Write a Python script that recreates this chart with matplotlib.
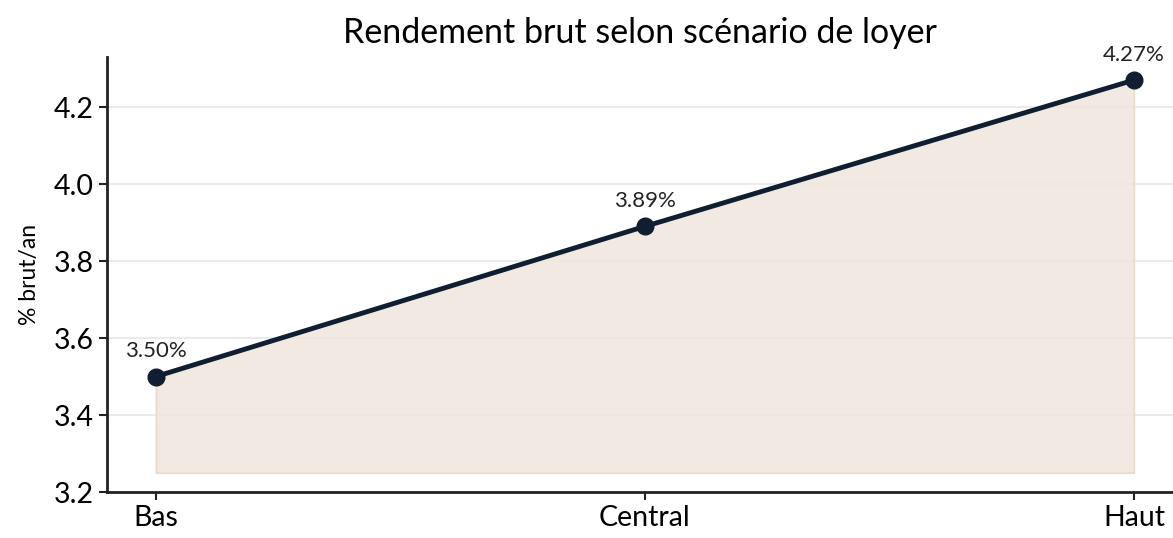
import matplotlib
matplotlib.use('Agg')
import matplotlib.pyplot as plt

# Data
scenarios = ['Bas', 'Central', 'Haut']
rendement = [3.50, 3.89, 4.27]
yticks = [3.2, 3.4, 3.6, 3.8, 4.0, 4.2]

plt.rcParams['font.family'] = ['Lato', 'DejaVu Sans']

lineCol = '#111e31'
fillCol = '#efe6dd'

fig = plt.figure(figsize=(11.73, 5.38), dpi=100)
ax = fig.add_axes([0.0912, 0.0855, 0.9088, 0.8085])

x = list(range(len(scenarios)))
ax.fill_between(x, 3.25, rendement, color=fillCol, alpha=0.85,
                edgecolor='#e6d8c6', lw=1.2, zorder=1)
ax.plot(x, rendement, color=lineCol, lw=3.5, marker='o', ms=12, zorder=3)

for xi, v in zip(x, rendement):
    ax.annotate('%.2f%%' % v, (xi, v), xytext=(0, 11), textcoords='offset points',
                ha='center', va='bottom', fontsize=16, color='#222222')

ax.set_xlim(-0.1, 2.08)
ax.set_ylim(3.2, 4.33)
ax.set_xticks(x)
ax.set_xticklabels(scenarios)
ax.set_yticks(yticks)
ax.set_yticklabels(['%.1f' % t for t in yticks])
ax.tick_params(labelsize=20.5, width=1.5, length=6, color='#222222')
ax.grid(axis='y', color='#ebebeb', lw=1.5, zorder=0)
ax.set_axisbelow(True)

for s in ['top', 'right']:
    ax.spines[s].set_visible(False)
for s in ['left', 'bottom']:
    ax.spines[s].set_linewidth(2)
    ax.spines[s].set_color('#222222')

ax.set_ylabel('% brut/an', fontsize=16.5, labelpad=10)
ax.set_title('Rendement brut selon scénario de loyer', fontsize=24.5, pad=10)

fig.savefig('out.png', dpi=100)
